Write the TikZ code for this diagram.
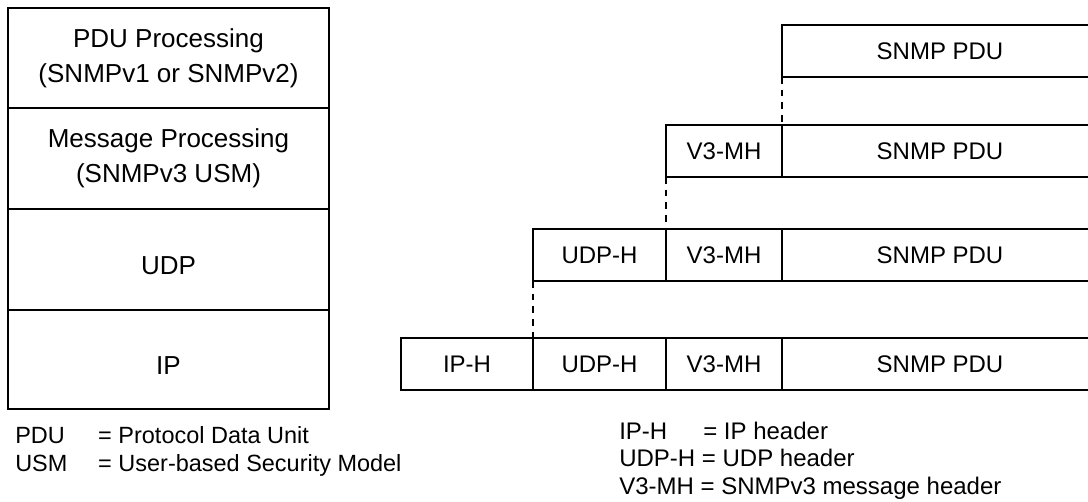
\documentclass[tikz,border=0pt]{standalone}
\usepackage{fontspec}
\setmainfont{Liberation Sans}
\usepackage{xcolor}
\usepackage{tikz}

\tikzset{
  layer/.style={draw, line width=1.2pt, rectangle, inner sep=0pt, outer sep=0pt,
    minimum width=321*0.75pt, minimum height=#1*0.75pt, align=center,
    font=\fontsize{19.5}{26}\selectfont},
  lowtext/.style={text height=23pt, text depth=0pt},
  cell/.style={draw, line width=1.2pt, rectangle, inner sep=0pt, outer sep=0pt,
    minimum height=52*0.75pt, minimum width=#1*0.75pt, anchor=north west,
    font=\fontsize{18}{21}\selectfont},
  hdrlink/.style={line width=1.2pt, dash pattern=on 5pt off 4.5pt},
  legend/.style={anchor=west, align=left, inner sep=0pt}
}

\begin{document}
\begin{tikzpicture}[x=0.75pt,y=0.75pt,yscale=-1,xscale=1]
\useasboundingbox (0,0) rectangle (1088,502);
\clip (0,0) rectangle (1088,502);

%Shape: protocol stack
\node [layer=100] (pduproc) at (168.5,58) {PDU Processing\\(SNMPv1 or SNMPv2)};
\node [layer=101] (msgproc) at (168.5,158.5) {Message Processing\\(SNMPv3 USM)};
\node [layer=101, lowtext] (udp) at (168.5,259.5) {UDP};
\node [layer=99, lowtext] (ip) at (168.5,359.5) {IP};

%Shape: encapsulation rows
\node [cell=316] (pdua) at (782,25) {SNMP PDU};

\node [cell=116] (mhb) at (666,125) {V3-MH};
\node [cell=316] (pdub) at (782,125) {SNMP PDU};

\node [cell=133] (udphc) at (533,229) {UDP-H};
\node [cell=116] (mhc) at (666,229) {V3-MH};
\node [cell=316] (pduc) at (782,229) {SNMP PDU};

\node [cell=132] (iphd) at (401,338) {IP-H};
\node [cell=133] (udphd) at (533,338) {UDP-H};
\node [cell=116] (mhd) at (666,338) {V3-MH};
\node [cell=316] (pdud) at (782,338) {SNMP PDU};

%Dashed Lines
\draw [hdrlink] (pdua.south west) -- (pdub.north west);
\draw [hdrlink] (mhb.south west) -- (mhc.north west);
\draw [hdrlink] (udphc.south west) -- (udphd.north west);

% Text Node
\node [legend, font=\fontsize{17.6}{21}\selectfont] (keyleft) at (15,451)
  {\makebox[62.25pt][l]{PDU}= Protocol Data Unit\\
   \makebox[62.25pt][l]{USM}= User-based Security Model};
% Text Node
\node [legend, font=\fontsize{18}{20.6}\selectfont] (keyright) at (619,460.5)
  {\makebox[63pt][l]{IP-H}= IP header\\
   UDP-H = UDP header\\
   V3-MH = SNMPv3 message header};

\end{tikzpicture}
\end{document}
